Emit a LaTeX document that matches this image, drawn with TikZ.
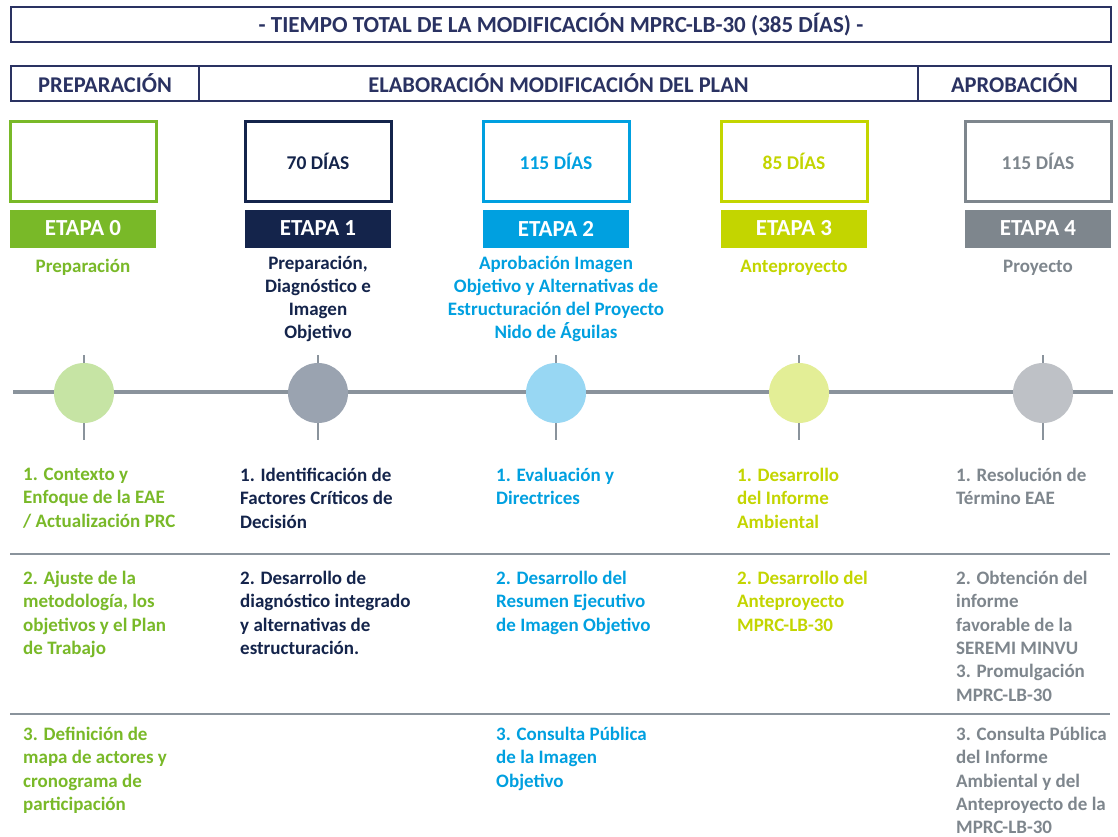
\documentclass[tikz,border=0pt]{standalone}
\usepackage{fontspec}
\setmainfont{Carlito}

\definecolor{hdrblue}{HTML}{2A3262}
\definecolor{etgreen}{HTML}{79B928}
\definecolor{etnavy}{HTML}{14244B}
\definecolor{etblue}{HTML}{00A0E0}
\definecolor{etlime}{HTML}{C3D500}
\definecolor{etgray}{HTML}{7E868D}
\definecolor{dotgreen}{HTML}{C6E4A4}
\definecolor{dotnavy}{HTML}{9AA3B0}
\definecolor{dotblue}{HTML}{98D7F3}
\definecolor{dotlime}{HTML}{E3EE96}
\definecolor{dotgray}{HTML}{BEC1C6}
\definecolor{rulegray}{HTML}{8A939C}

\tikzset{
  hdr/.style={draw=hdrblue, line width=2pt, text=hdrblue, inner sep=0pt,
    minimum height=35pt, font=\fontsize{22.5}{26}\selectfont\bfseries},
  daybox/.style={line width=3pt, minimum width=146pt, minimum height=80pt,
    inner sep=0pt, font=\fontsize{19.5}{23}\selectfont\bfseries},
  etapabar/.style={text=white, minimum width=146pt, minimum height=38pt,
    inner sep=0pt, font=\fontsize{23}{26}\selectfont\bfseries},
  subtxt/.style={align=center, anchor=north, inner sep=0pt,
    font=\fontsize{19}{23.3}\selectfont\bfseries, execute at begin node=\strut},
  itemtxt/.style={align=left, anchor=north west, inner sep=0pt,
    font=\fontsize{19}{23.3}\selectfont\bfseries, execute at begin node=\strut},
  dotnode/.style={circle, minimum size=60pt, inner sep=0pt},
  tickline/.style={draw=rulegray, line width=2.5pt},
  axisline/.style={draw=rulegray, line width=4pt},
  sepline/.style={draw=rulegray, line width=2.5pt}
}

\begin{document}
\begin{tikzpicture}[x=1pt, y=-1pt]
  \useasboundingbox[fill=white] (0,0) rectangle (1118,837);

  % encabezados
  \node[hdr, minimum width=1100pt, font=\fontsize{23}{26}\selectfont\bfseries] (total) at (561,25)
    {- TIEMPO TOTAL DE LA MODIFICACIÓN MPRC-LB-30 (385 DÍAS) -};
  \node[hdr, minimum width=188pt] (prep) at (105,83.5) {PREPARACIÓN};
  \node[hdr, minimum width=719pt] (elab) at (558.5,83.5) {ELABORACIÓN MODIFICACIÓN DEL PLAN};
  \node[hdr, minimum width=193pt] (aprob) at (1014.5,83.5) {APROBACIÓN};

  % linea de tiempo
  \coordinate (tlw) at (13,392);
  \coordinate (tle) at (1113,392);
  \foreach \dx in {84,318,556,799,1043}
    \draw[tickline] (\dx,355) -- (\dx,440);
  \draw[axisline] (tlw) -- (tle);

  % etapas
  \foreach \cx/\dx/\col/\dcol/\dias/\sub [count=\i from 0] in {
      83/84/etgreen/dotgreen/{}/{Preparación},
      318/318/etnavy/dotnavy/{70 DÍAS}/{Preparación,\\Diagnóstico e\\Imagen\\Objetivo},
      556/556/etblue/dotblue/{115 DÍAS}/{Aprobación Imagen\\Objetivo y Alternativas de\\Estructuración del Proyecto\\Nido de Águilas},
      794/799/etlime/dotlime/{85 DÍAS}/{Anteproyecto},
      1038/1043/etgray/dotgray/{115 DÍAS}/{Proyecto}} {
    \node[daybox, draw=\col, text=\col] (box\i) at (\cx,161.5) {\dias};
    \node[etapabar, fill=\col] (bar\i) at (\cx,228.5) {ETAPA \i};
    \node[subtxt, text=\col] (sub\i) at (\cx,255.5) {\sub};
    \node[dotnode, fill=\dcol] (dot\i) at (\dx,393) {};
  }

  % separadores
  \draw[sepline] (10,554) -- (1110,554);
  \draw[sepline] (10,714) -- (1110,714);

  % actividades
  \node[itemtxt, text=etgreen] (a01) at (23,468) {1. Contexto y\\Enfoque de la EAE\\/ Actualización PRC};
  \node[itemtxt, text=etgreen] (a02) at (23,571) {2. Ajuste de la\\metodología, los\\objetivos y el Plan\\de Trabajo};
  \node[itemtxt, text=etgreen] (a03) at (23,727) {3. Definición de\\mapa de actores y\\cronograma de\\participación};

  \node[itemtxt, text=etnavy] (a11) at (240,468) {1. Identificación de\\Factores Críticos de\\Decisión};
  \node[itemtxt, text=etnavy] (a12) at (240,571) {2. Desarrollo de\\diagnóstico integrado\\y alternativas de\\estructuración.};

  \node[itemtxt, text=etblue] (a21) at (496,468) {1. Evaluación y\\Directrices};
  \node[itemtxt, text=etblue] (a22) at (496,571) {2. Desarrollo del\\Resumen Ejecutivo\\de Imagen Objetivo};
  \node[itemtxt, text=etblue] (a23) at (496,727) {3. Consulta Pública\\de la Imagen\\Objetivo};

  \node[itemtxt, text=etlime] (a31) at (737,468) {1. Desarrollo\\del Informe\\Ambiental};
  \node[itemtxt, text=etlime] (a32) at (737,571) {2. Desarrollo del\\Anteproyecto\\MPRC-LB-30};

  \node[itemtxt, text=etgray] (a41) at (956,468) {1. Resolución de\\Término EAE};
  \node[itemtxt, text=etgray] (a42) at (956,571) {2. Obtención del\\informe\\favorable de la\\SEREMI MINVU\\3. Promulgación\\MPRC-LB-30};
  \node[itemtxt, text=etgray] (a43) at (956,727) {3. Consulta Pública\\del Informe\\Ambiental y del\\Anteproyecto de la\\MPRC-LB-30};
\end{tikzpicture}
\end{document}
